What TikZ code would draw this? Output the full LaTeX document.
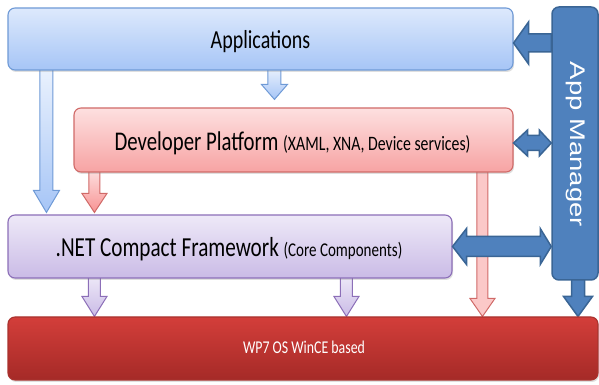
\documentclass[tikz,border=0pt]{standalone}
\usepackage{fontspec}
\usepackage{graphicx}
\setmainfont{Carlito}
\newfontfamily\arialf{Liberation Sans}
\usetikzlibrary{calc,shadows}
\pgfdeclarelayer{bg}
\pgfsetlayers{bg,main}
\definecolor{appB}{HTML}{6F9AD6}
\definecolor{appT}{HTML}{DDE9FC}
\definecolor{appD}{HTML}{A6C5F6}
\definecolor{devB}{HTML}{D06A68}
\definecolor{devT}{HTML}{FDE0E0}
\definecolor{devD}{HTML}{F7A3A3}
\definecolor{netB}{HTML}{8C6FB8}
\definecolor{netT}{HTML}{EEE9F8}
\definecolor{netD}{HTML}{CABBE6}
\definecolor{wpT}{HTML}{D33E3A}
\definecolor{wpD}{HTML}{A52A27}
\definecolor{amF}{HTML}{4F81BD}
\definecolor{amB}{HTML}{3A6595}
\tikzset{
  layerbox/.style={rectangle, rounded corners=7pt, inner sep=0pt, line width=1.1pt,
    drop shadow={shadow xshift=1pt, shadow yshift=-2pt, opacity=0.25}},
  appbox/.style={layerbox, draw=appB, top color=appT, bottom color=appD},
  devbox/.style={layerbox, draw=devB, top color=devT, bottom color=devD},
  netbox/.style={layerbox, draw=netB, top color=netT, bottom color=netD},
  wpbox/.style={layerbox, draw=wpT!80!black, top color=wpT, bottom color=wpD},
  ambox/.style={rectangle, rounded corners=7pt, inner sep=0pt, line width=1.5pt, draw=amB, fill=amF},
  boxtext/.style={inner sep=0pt},
  blueArrow/.style={draw=appB, line width=1pt, top color=appT!60!white, bottom color=appD},
  redArrow/.style={draw=devB, line width=1pt, top color=devT, bottom color=devD!90!red},
  longRed/.style={draw=devB, line width=1pt, fill=devT!60!devD},
  purpArrow/.style={draw=netB, line width=1pt, top color=netT, bottom color=netD},
  amArrow/.style={draw=amB, line width=1.5pt, fill=amF, line join=miter},
}
% vertical down block arrow: style, from, tip, shaft half, head half, head length
\newcommand\varrow[6]{%
  \path[#1] let \p1=#2, \p2=#3 in
    (\x1-#4pt,\y1) -- (\x1-#4pt,\y2+#6pt) -- (\x1-#5pt,\y2+#6pt) -- (\x1,\y2)
    -- (\x1+#5pt,\y2+#6pt) -- (\x1+#4pt,\y2+#6pt) -- (\x1+#4pt,\y1) -- cycle;}
% horizontal double block arrow: style, left tip, right tip, shaft half, head half, left head len, right head len
\newcommand\hdarrow[7]{%
  \path[#1] let \p1=#2, \p2=#3 in
    (\x1,\y1) -- (\x1+#6pt,\y1+#5pt) -- (\x1+#6pt,\y1+#4pt) -- (\x2-#7pt,\y1+#4pt)
    -- (\x2-#7pt,\y1+#5pt) -- (\x2,\y1) -- (\x2-#7pt,\y1-#5pt) -- (\x2-#7pt,\y1-#4pt)
    -- (\x1+#6pt,\y1-#4pt) -- (\x1+#6pt,\y1-#5pt) -- cycle;}
% horizontal single left block arrow: style, left tip, right end, shaft half, head half, head len
\newcommand\hlarrow[6]{%
  \path[#1] let \p1=#2, \p2=#3 in
    (\x1,\y1) -- (\x1+#6pt,\y1+#5pt) -- (\x1+#6pt,\y1+#4pt) -- (\x2,\y1+#4pt)
    -- (\x2,\y1-#4pt) -- (\x1+#6pt,\y1-#4pt) -- (\x1+#6pt,\y1-#5pt) -- cycle;}
\newcommand\sq[1]{\scalebox{0.77}[1]{#1}}
\begin{document}
\begin{tikzpicture}[x=1pt,y=1pt]
\useasboundingbox (0,0) rectangle (599,385);
% boxes
\node[appbox, minimum width=505pt, minimum height=62pt] (app) at (260.5,346) {};
\node[devbox, minimum width=439pt, minimum height=64pt] (dev) at (293.5,245) {};
\node[netbox, minimum width=444pt, minimum height=63pt] (net) at (230,138.5) {};
\node[wpbox, minimum width=590pt, minimum height=63pt] (wp7) at (303,36.5) {};
\node[ambox, minimum width=46pt, minimum height=273pt] (am) at (575,241.5) {};
% texts
\node[boxtext] (apptext) at ($(app.center)+(0,-2.5)$)
  {\sq{\fontsize{26}{30}\selectfont Applications}};
\node[boxtext] (devtext) at ($(dev.center)+(-1,-3.5)$)
  {\sq{\fontsize{27}{30}\selectfont Developer Platform \fontsize{20.5}{22}\selectfont(XAML, XNA, Device services)}};
\node[boxtext] (nettext) at ($(net.center)+(-1,-3)$)
  {\sq{\fontsize{27.5}{30}\selectfont .NET Compact Framework \fontsize{19.5}{22}\selectfont(Core Components)}};
\node[boxtext, text=white] (wptext) at ($(wp7.center)+(1,1)$)
  {\sq{\fontsize{18}{20}\selectfont WP7 OS WinCE based}};
\node[text=white, rotate=-90, inner sep=0pt] (amlabel) at ($(am.center)+(1,-1)$)
  {\scalebox{1}[0.77]{\arialf\fontsize{27.5}{30}\selectfont App Manager}};
% anchor coordinates for the vertical arrows
\coordinate (a1) at ($(app.south west)+(39,3)$);
\coordinate (a2) at ($(app.south west)+(267,3)$);
\coordinate (d1) at ($(dev.south west)+(21,3)$);
\coordinate (d2) at ($(dev.south west)+(409,3)$);
\coordinate (n1) at ($(net.south west)+(87,3)$);
\coordinate (n2) at ($(net.south west)+(339,3)$);
\coordinate (m1) at ($(am.south)+(3,3)$);
\begin{pgfonlayer}{bg}
\varrow{blueArrow}{(a1)}{($(a1 |- net.north)+(0,2)$)}{6.5}{13}{22}
\varrow{blueArrow}{(a2)}{($(a2 |- dev.north)+(0,8)$)}{6.5}{13}{15}
\varrow{redArrow}{(d1)}{($(d1 |- net.north)+(0,2)$)}{5.5}{12.5}{19}
\varrow{longRed}{(d2)}{($(d2 |- wp7.north)+(0,0)$)}{5.5}{12.5}{18}
\varrow{purpArrow}{(n1)}{($(n1 |- wp7.north)+(0,0)$)}{6}{12.5}{20}
\varrow{purpArrow}{(n2)}{($(n2 |- wp7.north)+(0,0)$)}{6}{12.5}{20}
\varrow{amArrow}{(m1)}{($(m1 |- wp7.north)+(0,0)$)}{6.5}{14.5}{20}
\end{pgfonlayer}
% App Manager connectors
\hlarrow{amArrow}{($(app.east)+(0,-4)$)}{(am.west)}{9}{21}{15}
\hdarrow{amArrow}{($(dev.east)+(0,-3)$)}{(am.west)}{7.5}{13}{14}{12}
\hdarrow{amArrow}{(net.east)}{(am.west)}{10}{18}{14}{11}
\end{tikzpicture}
\end{document}
